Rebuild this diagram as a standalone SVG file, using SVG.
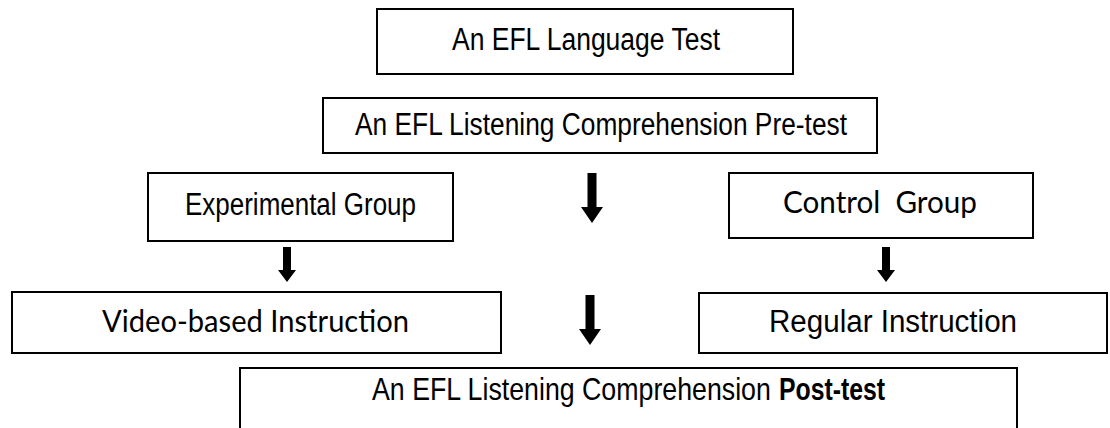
<svg xmlns="http://www.w3.org/2000/svg" width="1110" height="428" viewBox="0 0 1110 428">
<style>
.box{fill:#fff;stroke:#000;stroke-width:2}
.a{font-family:"Liberation Sans",Arial,sans-serif;font-size:31px;fill:#000}
.b{font-family:"Liberation Sans",Arial,sans-serif;font-size:31px;font-weight:bold;fill:#000}
.c{font-family:Lato,"Open Sans",sans-serif;font-size:31px;fill:#000}
.arr{fill:#000}
</style>
<rect width="1110" height="428" fill="#fff"/>
<g id="n-language">
<rect class="box" x="377" y="9" width="416" height="65"/>
<text class="a" x="452" y="50" textLength="268" lengthAdjust="spacingAndGlyphs">An EFL Language Test</text>
</g>
<g id="n-pretest">
<rect class="box" x="323" y="98" width="554" height="55"/>
<text class="a" x="355" y="135" textLength="492" lengthAdjust="spacingAndGlyphs">An EFL Listening Comprehension Pre-test</text>
</g>
<g id="n-experimental">
<rect class="box" x="148" y="173" width="305" height="68"/>
<text class="a" x="185" y="215" textLength="231" lengthAdjust="spacingAndGlyphs">Experimental Group</text>
</g>
<g id="n-control">
<rect class="box" x="729" y="173" width="304" height="65"/>
<text class="c" x="783" y="213" textLength="194" lengthAdjust="spacingAndGlyphs" xml:space="preserve">Control  Group</text>
</g>
<g id="n-video">
<rect class="box" x="12" y="292" width="489" height="61"/>
<text class="c" x="102" y="332" textLength="307" lengthAdjust="spacingAndGlyphs">Video-based Instruction</text>
</g>
<g id="n-regular">
<rect class="box" x="699" y="293" width="408" height="60"/>
<text class="a" x="769" y="332" textLength="248" lengthAdjust="spacingAndGlyphs">Regular Instruction</text>
</g>
<g id="n-posttest">
<rect class="box" x="240" y="368" width="777" height="70"/>
<text class="a" transform="translate(372,400) scale(0.863,1)">An EFL Listening Comprehension</text>
<text class="b" transform="translate(779,400) scale(0.8,1)">Post-test</text>
</g>
<g id="connectors">
<polygon class="arr" points="283,247 291,247 291,270 296,270 287,282 278,270 283,270"/>
<polygon class="arr" points="882,247 890,247 890,270 895,270 886,282 877,270 882,270"/>
<polygon class="arr" points="587.5,173 596.5,173 596.5,207 603,207 592,223 581,207 587.5,207"/>
<polygon class="arr" points="585.5,295 594.5,295 594.5,329 601,329 590,345 579,329 585.5,329"/>
</g>
</svg>
